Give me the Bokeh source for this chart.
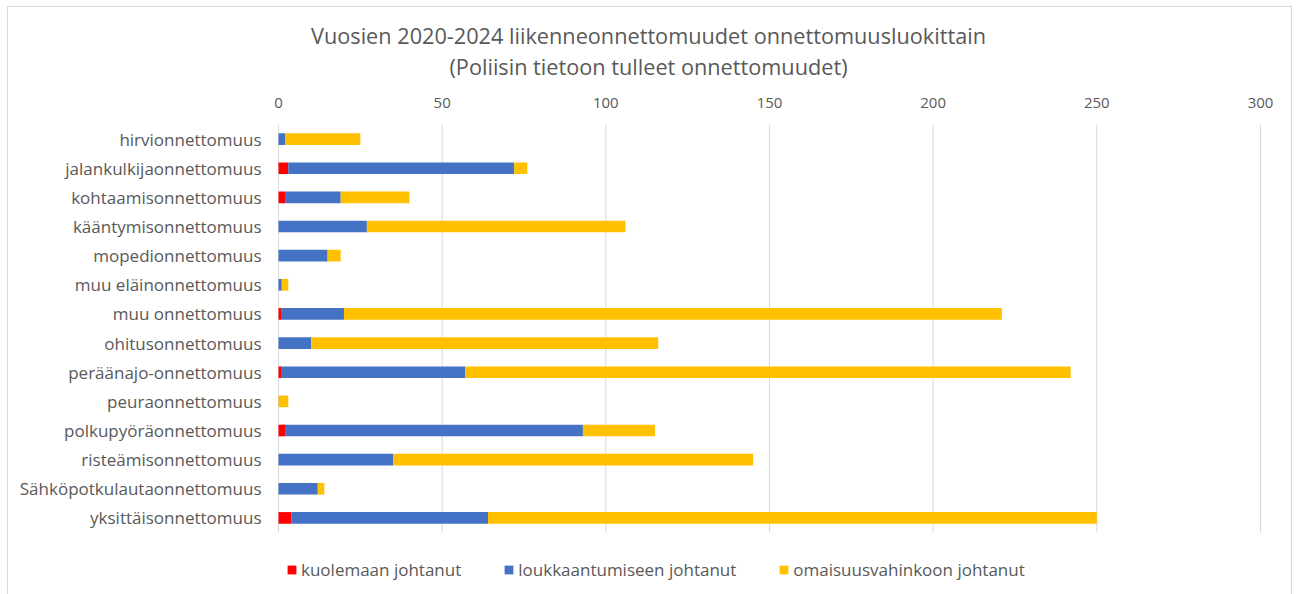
from bokeh.plotting import figure
from bokeh.models import Range1d, Legend, LegendItem, Title, ColumnDataSource, FixedTicker
from bokeh.core.properties import value
from bokeh.embed import file_html
from bokeh.resources import INLINE

categories = ["hirvionnettomuus", "jalankulkijaonnettomuus", "kohtaamisonnettomuus",
              "kääntymisonnettomuus", "mopedionnettomuus", "muu eläinonnettomuus",
              "muu onnettomuus", "ohitusonnettomuus", "peräänajo-onnettomuus",
              "peuraonnettomuus", "polkupyöräonnettomuus", "risteämisonnettomuus",
              "Sähköpotkulautaonnettomuus", "yksittäisonnettomuus"]
kuolemaan = [0, 3, 2, 0, 0, 0, 1, 0, 1, 0, 2, 0, 0, 4]
loukkaantumiseen = [2, 69, 17, 27, 15, 1, 19, 10, 56, 0, 91, 35, 12, 60]
omaisuusvahinkoon = [23, 4, 21, 79, 4, 2, 201, 106, 185, 3, 22, 110, 2, 186]
series_names = ["kuolemaan johtanut", "loukkaantumiseen johtanut", "omaisuusvahinkoon johtanut"]
x_ticks = [0, 50, 100, 150, 200, 250, 300]
title_lines = ["Vuosien 2020-2024 liikenneonnettomuudet onnettomuusluokittain",
               "(Poliisin tietoon tulleet onnettomuudet)"]

FONT = "Open Sans"
TXT = "#595959"
GRID = "#d9d9d9"

W, H = 1296, 594
TOP = 124                            # frame top (px)
PLOT_L, PLOT_R = 278, 1260           # pixel extent of 0..300
ROW_PX = 408 / len(categories)       # pixel height of one category row
units_per_px = (x_ticks[-1] - x_ticks[0]) / (PLOT_R - PLOT_L)
n = len(categories)

source = ColumnDataSource(dict(row=list(range(n)), cat=categories,
                               k=kuolemaan, l=loukkaantumiseen, o=omaisuusvahinkoon))

p = figure(width=W, height=H, output_backend="svg", toolbar_location=None,
           x_range=Range1d(x_ticks[0] - PLOT_L * units_per_px, x_ticks[-1] + (W - PLOT_R) * units_per_px),
           y_range=Range1d(-0.5 + (H - TOP) / ROW_PX, -0.5),
           x_axis_location="above",
           min_border_left=0, min_border_right=0, min_border_top=TOP, min_border_bottom=0)
p.outline_line_color = None
p.background_fill_color = None
p.border_fill_color = None
p.styles = {"background-color": "#ffffff",
            "box-shadow": ("inset 0 6px 0 0 #ffffff, inset 7px 0 0 0 #ffffff, inset -4px 0 0 0 #ffffff, "
                           "inset 0 7px 0 0 #d9d9d9, inset 8px 0 0 0 #d9d9d9, inset -5px 0 0 0 #d9d9d9")}

# vertical grid lines at the ticks, spanning the category rows only
p.segment(x0=x_ticks, y0=[-0.5] * len(x_ticks), x1=x_ticks, y1=[n - 0.5] * len(x_ticks),
          line_color=GRID, line_width=1)

renderers = p.hbar_stack(["k", "l", "o"], y="row", height=0.4, source=source,
                         color=["#FF0000", "#4472C4", "#FFC000"], line_color=None)

p.text(x=0, y="row", text="cat", source=source, x_offset=-17, text_align="right",
       text_baseline="middle", text_font=value(FONT), text_font_size="17px", text_color=TXT)

p.yaxis.visible = False
p.xaxis.ticker = FixedTicker(ticks=x_ticks)
p.xaxis.axis_line_color = None
p.xaxis.major_tick_line_color = None
p.xaxis.minor_tick_line_color = None
p.xaxis.major_label_text_font = FONT
p.xaxis.major_label_text_font_size = "15px"
p.xaxis.major_label_text_color = TXT
p.xaxis.major_label_standoff = 11
# blank axis label used only as a spacer between tick labels and the titles
p.xaxis.axis_label = " "
p.xaxis.axis_label_text_font_size = "6px"
p.xaxis.axis_label_standoff = 4

p.xgrid.visible = False
p.ygrid.visible = False

# second title line (closer to the plot), then main title (outermost)
p.add_layout(Title(text=title_lines[1], align="center", text_font=FONT, text_font_size="21.7px",
                   text_font_style="normal", text_color=TXT, standoff=1), "above")
p.title.text = title_lines[0]
p.title.align = "center"
p.title.text_font = FONT
p.title.text_font_size = "21.7px"
p.title.text_font_style = "normal"
p.title.text_color = TXT
p.title.standoff = 0

legend = Legend(items=[LegendItem(label=nm, renderers=[r]) for nm, r in zip(series_names, renderers)],
                location=(286, 13), orientation="horizontal")
legend.padding = 0
legend.margin = 0
legend.spacing = 42
legend.glyph_width = 11
legend.glyph_height = 11
legend.label_standoff = 4
legend.label_height = 20
legend.border_line_color = None
legend.background_fill_alpha = 0
legend.label_text_font = FONT
legend.label_text_font_size = "17px"
legend.label_text_color = TXT
p.add_layout(legend, "center")

open("out.html", "w").write(file_html(p, INLINE))
